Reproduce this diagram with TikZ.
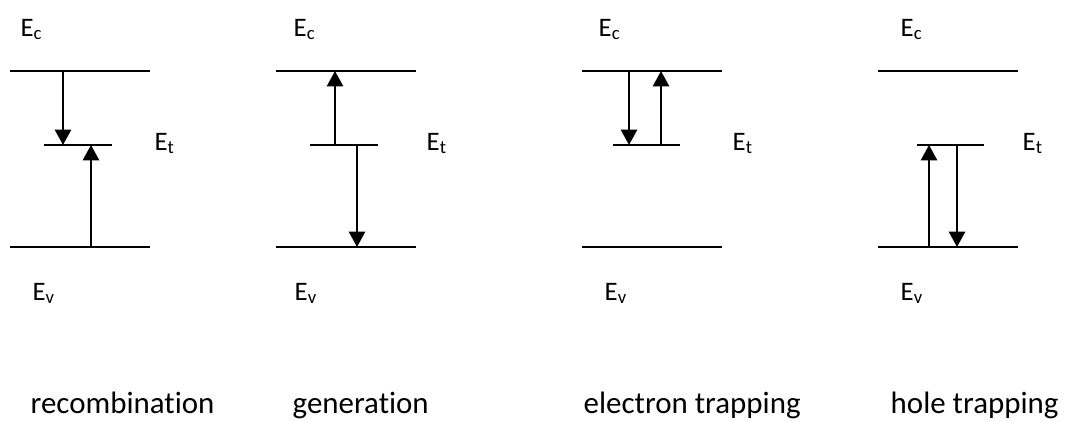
\documentclass[tikz,border=0pt]{standalone}
\usepackage{fontspec}
\setmainfont[RawFeature={-liga;-clig;-calt;-dlig}]{Carlito}
\usetikzlibrary{arrows.meta}

\begin{document}
\begin{tikzpicture}[>={Triangle[length=4.4pt,width=4.6pt]},
  level/.style={line width=0.75pt},
  trans/.style={line width=0.75pt,->},
  elabel/.style={inner sep=0pt,anchor=base west,font=\fontsize{7.6}{9}\selectfont},
  caption/.style={inner sep=0pt,anchor=base west,font=\fontsize{8.8}{10}\selectfont}]
  \useasboundingbox (0,0) rectangle (10.78,4.21);
  % band edges Ec and Ev, one pair per panel
  \foreach \n/\x in {a/0.10,b/2.76,c/5.82,d/8.78} {
    \draw[level] (\x,3.50) coordinate (c\n) -- ++(1.40,0);
    \draw[level] (\x,1.74) coordinate (v\n) -- ++(1.40,0);
  }
  % trap levels Et
  \draw[level] (0.44,2.76) coordinate (ta) -- (1.12,2.76);
  \draw[level] (3.10,2.76) coordinate (tb) -- (3.78,2.76);
  \draw[level] (6.13,2.76) coordinate (tc) -- (6.80,2.76);
  \draw[level] (9.17,2.76) coordinate (td) -- (9.84,2.76);
  % recombination
  \draw[trans] (ca) ++(0.53,0) coordinate (a1) -- (a1 |- ta);
  \draw[trans] (va) ++(0.81,0) coordinate (a2) -- (a2 |- ta);
  % generation
  \draw[trans] (tb) ++(0.25,0) coordinate (b1) -- (b1 |- cb);
  \draw[trans] (tb) ++(0.47,0) coordinate (b2) -- (b2 |- vb);
  % electron trapping
  \draw[trans] (cc) ++(0.47,0) coordinate (c1) -- (c1 |- tc);
  \draw[trans] (tc) ++(0.48,0) coordinate (c2) -- (c2 |- cc);
  % hole trapping
  \draw[trans] (vd) ++(0.51,0) coordinate (d1) -- (d1 |- td);
  \draw[trans] (td) ++(0.40,0) coordinate (d2) -- (d2 |- vd);
  % level names
  \node[elabel] (eca) at (0.20,3.85) {E\textsubscript{c}};
  \node[elabel] (eta) at (1.54,2.71) {E\textsubscript{t}};
  \node[elabel] (eva) at (0.32,1.21) {E\textsubscript{v}};
  \node[elabel] (ecb) at (2.93,3.85) {E\textsubscript{c}};
  \node[elabel] (etb) at (4.26,2.71) {E\textsubscript{t}};
  \node[elabel] (evb) at (2.94,1.21) {E\textsubscript{v}};
  \node[elabel] (ecc) at (5.98,3.85) {E\textsubscript{c}};
  \node[elabel] (etc) at (7.32,2.71) {E\textsubscript{t}};
  \node[elabel] (evc) at (6.04,1.21) {E\textsubscript{v}};
  \node[elabel] (ecd) at (9.00,3.85) {E\textsubscript{c}};
  \node[elabel] (etd) at (10.22,2.71) {E\textsubscript{t}};
  \node[elabel] (evd) at (9.00,1.21) {E\textsubscript{v}};
  % process names
  \node[caption] (recomb) at (0.30,0.08) {recombination};
  \node[caption] (gen) at (2.92,0.08) {generation};
  \node[caption] (etrap) at (5.83,0.08) {electron trapping};
  \node[caption] (htrap) at (8.90,0.08) {hole trapping};
\end{tikzpicture}
\end{document}
